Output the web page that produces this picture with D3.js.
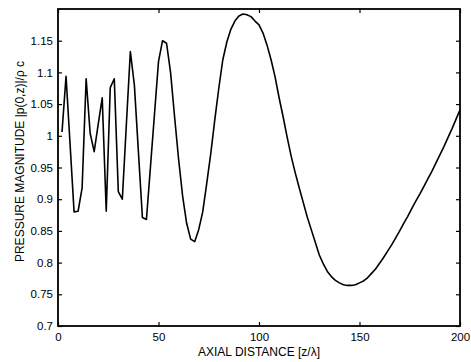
<!DOCTYPE html>
<meta charset="utf-8">
<script src="https://cdn.jsdelivr.net/npm/d3@7"></script>
<style>
  body { margin: 0; background: #fff; }
  text { font-family: "Liberation Sans", Arial, sans-serif; font-size: 12px; fill: #000; }
</style>
<div id="vis"></div>
<script>
// axial distance z/lambda, sampled every 2
const zValues = d3.range(2, 201, 2);

// on-axis pressure magnitude |p(0,z)|/rho c
const pressure = [
  1.006, 1.094, 0.987, 0.880, 0.881, 0.918, 1.090, 1.004, 0.975, 1.018,
  1.060, 0.881, 1.076, 1.090, 0.912, 0.900, 1.017, 1.133, 1.080, 0.975,
  0.871, 0.868, 0.951, 1.034, 1.117, 1.150, 1.146, 1.100, 1.030, 0.963,
  0.905, 0.862, 0.837, 0.833, 0.852, 0.880, 0.925, 0.972, 1.025, 1.075,
  1.120, 1.148, 1.168, 1.181, 1.189, 1.192, 1.191, 1.188, 1.181, 1.175,
  1.162, 1.143, 1.120, 1.093, 1.060, 1.030, 0.998, 0.968, 0.942, 0.918,
  0.895, 0.872, 0.852, 0.832, 0.812, 0.798, 0.786, 0.778, 0.772, 0.768,
  0.765, 0.764, 0.764, 0.765, 0.768, 0.771, 0.776, 0.783, 0.790, 0.799,
  0.808, 0.818, 0.828, 0.839, 0.850, 0.862, 0.873, 0.885, 0.897, 0.908,
  0.920, 0.932, 0.944, 0.957, 0.970, 0.983, 0.997, 1.011, 1.026, 1.041
];

const xTicks = [0, 50, 100, 150, 200];
const yTicks = [0.7, 0.75, 0.8, 0.85, 0.9, 0.95, 1, 1.05, 1.1, 1.15];

const data = zValues.map((z, i) => ({ z: z, p: pressure[i] }));

const W = 471, H = 362;
const margin = { top: 9, right: 11, bottom: 36, left: 58 };
const width = W - margin.left - margin.right;
const height = H - margin.top - margin.bottom;

const x = d3.scaleLinear().domain([0, 200]).range([0, width]);
const y = d3.scaleLinear().domain([0.7, 1.2]).range([height, 0]);

const svg = d3.select("#vis").append("svg")
  .attr("width", W).attr("height", H);

const g = svg.append("g")
  .attr("transform", `translate(${margin.left},${margin.top})`);

const fmt = d => d3.format("")(+d.toFixed(2));

// bottom + top axes, ticks pointing inward
g.append("g")
  .attr("transform", `translate(0,${height})`)
  .call(d3.axisBottom(x).tickValues(xTicks).tickSize(-4).tickPadding(7).tickFormat(fmt))
  .call(a => a.select(".domain").remove());
g.append("g")
  .call(d3.axisTop(x).tickValues(xTicks).tickSize(-4).tickFormat(""))
  .call(a => a.select(".domain").remove());

// left + right axes
g.append("g")
  .call(d3.axisLeft(y).tickValues(yTicks).tickSize(-4).tickPadding(5).tickFormat(fmt))
  .call(a => a.select(".domain").remove());
g.append("g")
  .attr("transform", `translate(${width},0)`)
  .call(d3.axisRight(y).tickValues(yTicks).tickSize(-4).tickFormat(""))
  .call(a => a.select(".domain").remove());

g.selectAll(".tick line").attr("stroke", "#000").attr("stroke-width", 1.2);
g.selectAll(".tick text")
  .style("font-family", "'Liberation Sans', Arial, sans-serif")
  .style("font-size", "11.5px");

// the box
g.append("rect")
  .attr("width", width).attr("height", height)
  .attr("fill", "none").attr("stroke", "#000").attr("stroke-width", 1.8);

const line = d3.line().x(d => x(d.z)).y(d => y(d.p));

g.append("path")
  .datum(data)
  .attr("fill", "none")
  .attr("stroke", "#000")
  .attr("stroke-width", 1.6)
  .attr("stroke-linejoin", "round")
  .attr("d", line);

svg.append("text")
  .attr("x", margin.left + width / 2)
  .attr("y", 356)
  .attr("text-anchor", "middle")
  .text("AXIAL DISTANCE [z/\u03bb]");

svg.append("text")
  .attr("transform", `translate(24,${margin.top + height / 2 - 6}) rotate(-90)`)
  .attr("text-anchor", "middle")
  .text("PRESSURE MAGNITUDE |p(0,z)|/\u03c1 c");
</script>
